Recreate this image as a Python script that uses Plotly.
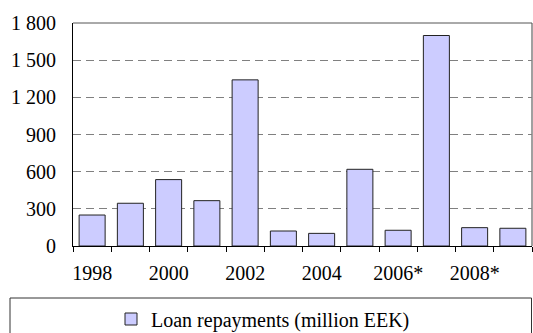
import plotly.graph_objects as go

categories = ["1998", "1999", "2000", "2001", "2002", "2003", "2004", "2005",
              "2006*", "2007*", "2008*", "2009*"]
loan_repayments = [250, 345, 536, 366, 1341, 121, 102, 619, 127, 1699, 148, 143]
x_tick_labels = ["1998", "", "2000", "", "2002", "", "2004", "", "2006*", "", "2008*", ""]
y_tick_values = [0, 300, 600, 900, 1200, 1500, 1800]
y_tick_labels = ["0", "300", "600", "900", "1 200", "1 500", "1 800"]

FONT = "Liberation Serif, Times New Roman, DejaVu Serif, serif"

fig = go.Figure()
fig.add_trace(go.Bar(
    x=categories, y=loan_repayments,
    name="Loan repayments (million EEK)",
    marker=dict(color="#CCCCFF", line=dict(color="#222222", width=1)),
))

W, H = 533, 333
L, R, T, B = 73, 1, 23, 87
pw, ph = W - L - R, H - T - B

def px_x(x):
    return (x - L) / pw

def px_y(y):
    return (H - B - y) / ph

fig.update_layout(
    template="none",
    width=W, height=H,
    margin=dict(l=L, r=R, t=T, b=B, pad=0, autoexpand=False),
    paper_bgcolor="white", plot_bgcolor="white",
    font=dict(family=FONT, size=20, color="#000000"),
    bargap=0.32,
    showlegend=True,
    legend=dict(
        x=px_x(263), y=px_y(319), xanchor="center", yanchor="middle",
        orientation="h", bgcolor="rgba(0,0,0,0)", borderwidth=0,
        font=dict(family=FONT, size=20), itemwidth=30,
    ),
    xaxis=dict(
        type="category", automargin=False,
        tickmode="array", tickvals=categories, ticktext=x_tick_labels,
        tickson="boundaries", ticks="outside", ticklen=5, tickcolor="#000000",
        tickwidth=1, tickangle=0,
        showline=True, linecolor="#000000", linewidth=1,
        showgrid=False, ticklabelstandoff=9,
        tickfont=dict(family=FONT, size=20),
    ),
    yaxis=dict(
        range=[0, 1800], automargin=False,
        tickmode="array", tickvals=y_tick_values, ticktext=y_tick_labels,
        ticks="", showline=True, linecolor="#000000", linewidth=1,
        showgrid=True, gridcolor="#808080", gridwidth=1, griddash="8px,5px",
        zeroline=False, ticklabelstandoff=12,
        tickfont=dict(family=FONT, size=20),
    ),
    shapes=[
        dict(type="line", xref="paper", yref="paper", x0=1, x1=1, y0=0, y1=1,
             line=dict(color="#808080", width=1.5)),
        dict(type="line", xref="paper", yref="paper", x0=0, x1=1, y0=1, y1=1,
             line=dict(color="#555555", width=1)),
        dict(type="rect", xref="paper", yref="paper",
             x0=px_x(10), x1=px_x(531.5), y0=px_y(298), y1=px_y(340),
             line=dict(color="#333333", width=1)),
    ],
)

fig.write_html("out.html", post_script="document.body.style.margin='0px';",
               config={"displayModeBar": False})
